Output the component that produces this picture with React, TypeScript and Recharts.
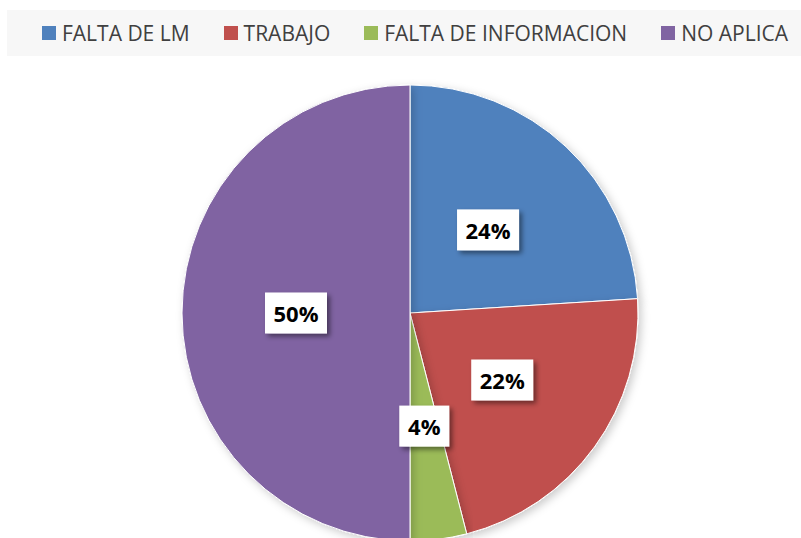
import { PieChart, Pie, Cell } from "recharts";

const categories = ["FALTA DE LM", "TRABAJO", "FALTA DE INFORMACION", "NO APLICA"];
const values = [24, 22, 4, 50];
const labels = ["24%", "22%", "4%", "50%"];

const COLORS = ["#4f81bd", "#c0504d", "#9bbb59", "#8064a2"];

const data = categories.map((name, i) => ({ name, value: values[i], label: labels[i] }));

const RADIAN = Math.PI / 180;

function renderLabel(props: any) {
  const { cx, cy, midAngle, outerRadius, index } = props;
  const r = outerRadius * 0.5;
  const x = cx + r * Math.cos(-midAngle * RADIAN);
  const y = cy + r * Math.sin(-midAngle * RADIAN);
  const text = labels[index];
  const w = text.length > 2 ? 62 : 50;
  const h = 41;
  return (
    <g>
      <rect
        x={x - w / 2}
        y={y - h / 2}
        width={w}
        height={h}
        fill="#ffffff"
        filter="url(#boxShadow)"
      />
      <text
        x={x}
        y={y}
        textAnchor="middle"
        dominantBaseline="central"
        fontFamily="'Open Sans', sans-serif"
        fontWeight={700}
        fontSize={22}
        fill="#000"
      >
        {text}
      </text>
    </g>
  );
}

export default function App() {
  return (
    <div style={{ position: "absolute", left: 0, top: 0, width: 801, height: 538, background: "#fff", overflow: "hidden" }}>
      <div
        style={{
          position: "absolute",
          left: 7,
          top: 10,
          width: 800,
          height: 46,
          background: "#f7f7f7",
          display: "flex",
          alignItems: "center",
          fontFamily: "'Open Sans', sans-serif",
          fontSize: 21,
          color: "#404040",
          whiteSpace: "nowrap",
        }}
      >
        {categories.map((c, i) => (
          <div key={c} style={{ display: "flex", alignItems: "center", marginLeft: i === 0 ? 35 : 34 }}>
            <span style={{ width: 14, height: 14, background: COLORS[i], display: "inline-block", marginRight: 6 }} />
            <span>{c}</span>
          </div>
        ))}
      </div>
      <PieChart width={801} height={538} style={{ position: "absolute", left: 0, top: 0 }}>
        <defs>
          <filter id="boxShadow" x="-30%" y="-30%" width="160%" height="160%">
            <feDropShadow dx="3" dy="3" stdDeviation="2.5" floodColor="#000" floodOpacity="0.45" />
          </filter>
          <filter id="pieShadow" x="-10%" y="-10%" width="120%" height="120%">
            <feDropShadow dx="3" dy="3" stdDeviation="4" floodColor="#000" floodOpacity="0.2" />
          </filter>
        </defs>
        <Pie
          data={data}
          dataKey="value"
          cx={405}
          cy={308}
          outerRadius={228}
          startAngle={90}
          endAngle={-270}
          stroke="#ffffff"
          strokeWidth={1}
          label={renderLabel}
          labelLine={false}
          isAnimationActive={false}
          style={{ filter: "url(#pieShadow)" }}
        >
          {data.map((_, i) => (
            <Cell key={i} fill={COLORS[i]} />
          ))}
        </Pie>
      </PieChart>
    </div>
  );
}
